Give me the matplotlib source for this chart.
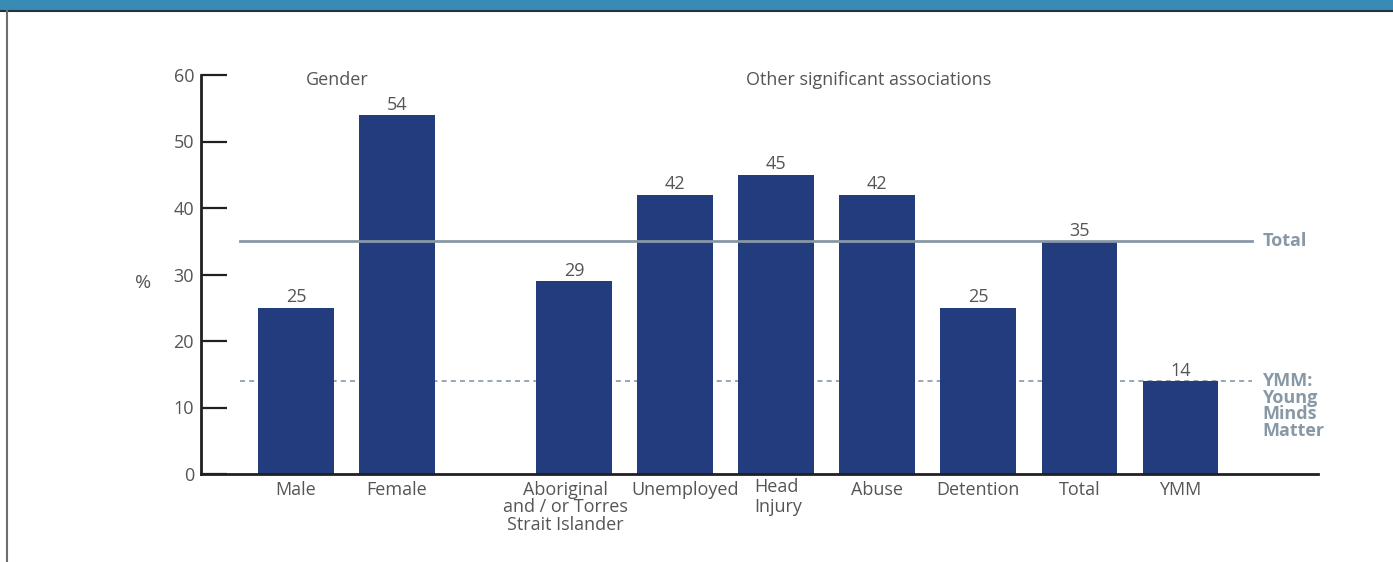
import matplotlib.pyplot as plt
from matplotlib.patches import Rectangle
from matplotlib.lines import Line2D
from matplotlib.transforms import ScaledTranslation

categorias = ["Male", "Female", "Aboriginal\nand / or Torres\nStrait Islander", "Unemployed",
              "Head\nInjury", "Abuse", "Detention", "Total", "YMM"]
valores = [25, 54, 29, 42, 45, 42, 25, 35, 14]
posicoes = [0, 1, 2.75, 3.75, 4.75, 5.75, 6.75, 7.75, 8.75]
linha_total = 35
linha_ymm = 14
yticks = [0, 10, 20, 30, 40, 50, 60]

cor_barra = "#233c7e"
cor_texto = "#555555"
cor_ref = "#8798a6"
tam = 13

plt.rcParams['font.family'] = ['Open Sans', 'DejaVu Sans']

fig = plt.figure(figsize=(13.93, 5.62), dpi=100)

# faixa azul no topo e borda esquerda
fig.add_artist(Rectangle((0, 1 - 10 / 562), 1, 10 / 562, transform=fig.transFigure,
                         facecolor="#388bb5", edgecolor="none"))
fig.add_artist(Line2D([0, 1], [1 - 11 / 562, 1 - 11 / 562], transform=fig.transFigure,
                      color="#1f3440", lw=1.5))
fig.add_artist(Line2D([7 / 1393, 7 / 1393], [0, 1 - 11 / 562], transform=fig.transFigure,
                      color="#6e6e6e", lw=1.5))

center = fig.add_axes([201 / 1393, 1 - 474 / 562, (1318 - 201) / 1393, (474 - 75) / 562])

center.bar(posicoes, valores, width=0.75, color=cor_barra, zorder=2)

center.plot([-0.55, 9.46], [linha_ymm, linha_ymm], color=cor_ref, lw=1.2,
            linestyle=(0, (3, 2.5)), zorder=1)
center.plot([-0.55, 9.46], [linha_total, linha_total], color=cor_ref, lw=2, zorder=3)

for x, v in zip(posicoes, valores):
    center.text(x, v + 0.2, str(v), ha='center', va='bottom', fontsize=tam, color=cor_texto)

center.text(9.56, linha_total, "Total", ha='left', va='center', fontsize=tam,
            color=cor_ref, fontweight='bold')
center.text(9.56, linha_ymm + 1.3, "YMM:\nYoung\nMinds\nMatter", ha='left', va='top',
            fontsize=tam, color=cor_ref, fontweight='bold', linespacing=0.9)

center.text(0.41, 59.2, "Gender", ha='center', va='center', fontsize=tam, color=cor_texto)
center.text(5.66, 59.2, "Other significant associations", ha='center', va='center',
            fontsize=tam, color=cor_texto)

center.set_xlim(-0.94, 10.11)
center.set_ylim(0, 60)
center.set_yticks(yticks)
center.set_xticks(posicoes)
center.set_xticklabels(categorias, fontsize=tam, color=cor_texto, linespacing=0.95, va='top')
center.tick_params(axis='x', length=0, pad=5)
center.tick_params(axis='y', direction='in', length=19, width=1.6, color="#231f20",
                   labelsize=tam, labelcolor=cor_texto, pad=5)

# pequenos deslocamentos nos rótulos longos para não encostarem
rotulos = center.get_xticklabels()
deslocamentos = {2: (-9, 0), 3: (10, 0), 4: (2, 3)}
for i, (dx, dy) in deslocamentos.items():
    rotulos[i].set_transform(rotulos[i].get_transform()
                             + ScaledTranslation(dx / 100, dy / 100, fig.dpi_scale_trans))
rotulos[4].set_multialignment('left')
rotulos[4].set_linespacing(1.15)

center.set_ylabel("%", rotation=0, fontsize=14, color=cor_texto, va='center', ha='center')
center.yaxis.set_label_coords(-0.052, 0.478)

for lado in ['top', 'right']:
    center.spines[lado].set_visible(False)
center.spines['left'].set_linewidth(2)
center.spines['left'].set_color("#231f20")
center.spines['bottom'].set_linewidth(2)
center.spines['bottom'].set_color("#231f20")

plt.savefig("out.png", dpi=100)
